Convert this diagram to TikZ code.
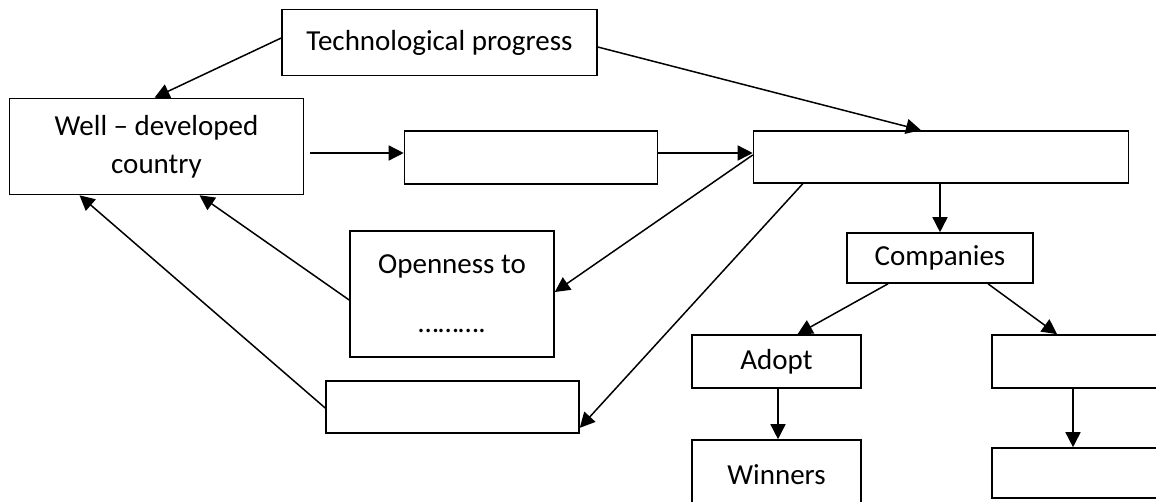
\documentclass[tikz,border=0pt]{standalone}
\usepackage{fontspec}
\setmainfont{Carlito}
\usetikzlibrary{arrows.meta,calc}
\begin{document}
\begin{tikzpicture}[x=1pt,y=-1pt,
  box/.style={draw, line width=1.6pt, inner sep=0pt, align=center, font=\fontsize{29}{35}\selectfont},
  arr/.style={-{Triangle[length=15pt,width=15pt]}, line width=1.5pt}]
\useasboundingbox (0,0) rectangle (1156,501);
\clip (0,0) rectangle (1156,501);
\node[box, minimum width=315pt, minimum height=66pt] (tech) at (439.5,42.5) {Technological progress};
\node[box, minimum width=294pt, minimum height=96pt] (well) at (156.5,146.5) {Well – developed\\[3pt]country};
\node[box, minimum width=253pt, minimum height=53pt] (a) at (531,157.5) {};
\node[box, minimum width=375pt, minimum height=52pt] (b) at (941,157) {};
\node[box, minimum width=204pt, minimum height=126pt] (open) at (452,294) {Openness to\\[24pt]……….};
\node[box, minimum width=253pt, minimum height=52pt] (c) at (452.5,407) {};
\node[box, minimum width=186pt, minimum height=50pt] (comp) at (940,258) {Companies};
\node[box, minimum width=169pt, minimum height=53pt] (adopt) at (776.5,361.5) {Adopt};
\node[box, minimum width=169pt, minimum height=70pt] (win) at (776.5,475) {Winners};
\node[box, minimum width=180pt, minimum height=53pt] (d) at (1082,361.5) {};
\node[box, minimum width=180pt, minimum height=50pt] (e) at (1082,473) {};
% connectors
\draw[arr] ([yshift=4.5pt]tech.west) -- ([xshift=-2pt]well.north);
\draw[arr] ([yshift=-4.5pt]tech.east) -- ([xshift=-20pt]b.north);
\draw[arr] ([xshift=6pt,yshift=-6.5pt]well.east) -- ([yshift=4.5pt]a.west);
\draw[arr] ([yshift=4.5pt]a.east) -- ([yshift=4pt]b.west);
\draw[arr] ([yshift=2pt]b.west) -- ([yshift=2pt]open.east);
\draw[arr] ([xshift=50pt]b.south west) -- ([yshift=6pt]c.south east);
\draw[arr] ([yshift=-6pt]open.west) -- ([xshift=43pt]well.south);
\draw[arr] ([yshift=-1pt]c.west) -- ([xshift=-77pt]well.south);
\draw[arr] ([xshift=-1pt]b.south) -- (comp.north);
\draw[arr] ([xshift=-52pt]comp.south) -- ([xshift=21pt]adopt.north);
\draw[arr] ([xshift=48pt]comp.south) -- ([xshift=-25pt]d.north);
\draw[arr] ([xshift=1.5pt]adopt.south) -- ([xshift=1.5pt]win.north);
\draw[arr] ([xshift=-9pt]d.south) -- ([xshift=-9pt]e.north);
\end{tikzpicture}
\end{document}
